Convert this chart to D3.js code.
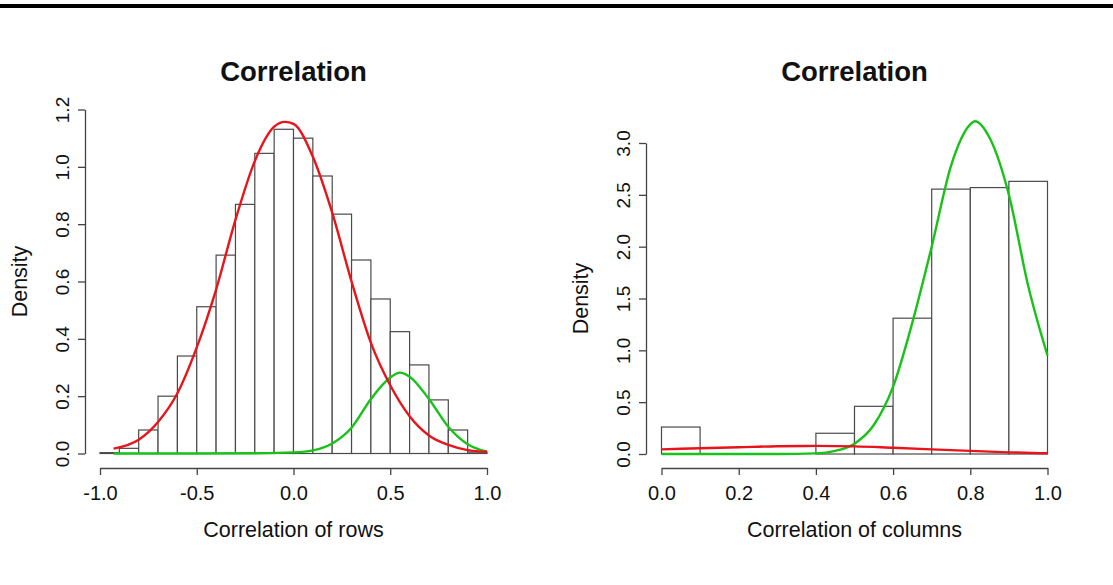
<!DOCTYPE html>
<html>
<head>
<meta charset="utf-8">
<script src="https://cdn.jsdelivr.net/npm/d3@7"></script>
<style>
body{margin:0;background:#fff;}
text{font-family:"Liberation Sans",Arial,sans-serif;fill:#111;}
</style>
</head>
<body>
<svg id="chart" width="1113" height="585"></svg>
<script>
// histogram of row correlations, bins of 0.1 from -1 to 1
var rowBreaks=[-1.0,-0.9,-0.8,-0.7,-0.6,-0.5,-0.4,-0.3,-0.2,-0.1,0.0,0.1,0.2,0.3,0.4,0.5,0.6,0.7,0.8,0.9,1.0];
var rowDensity=[0.003,0.018,0.082,0.2,0.34,0.512,0.692,0.869,1.047,1.131,1.10,0.968,0.835,0.675,0.539,0.425,0.309,0.187,0.082,0.005];
// fitted curves
var rowRedX=[-0.93,-0.8,-0.7,-0.6,-0.5,-0.4,-0.3,-0.2,-0.1,-0.045,0.0,0.1,0.2,0.3,0.4,0.5,0.6,0.7,0.8,0.9,1.0];
var rowRedY=[0.017,0.048,0.11,0.21,0.37,0.572,0.815,1.02,1.14,1.157,1.15,1.035,0.84,0.60,0.386,0.238,0.13,0.063,0.03,0.012,0.006];
var rowGreenX=[-0.93,-0.5,-0.2,0.0,0.1,0.2,0.3,0.4,0.5,0.55,0.6,0.7,0.8,0.9,1.0];
var rowGreenY=[0,0,0.001,0.004,0.011,0.035,0.09,0.19,0.265,0.282,0.268,0.19,0.093,0.032,0.006];

// histogram of column correlations, bins of 0.1 from 0 to 1
var colBreaks=[0.0,0.1,0.2,0.3,0.4,0.5,0.6,0.7,0.8,0.9,1.0];
var colDensity=[0.26,0,0,0,0.2,0.46,1.31,2.555,2.57,2.63];
var colRedX=[0.0,0.1,0.2,0.3,0.4,0.5,0.6,0.7,0.8,0.9,1.0];
var colRedY=[0.045,0.055,0.065,0.075,0.078,0.074,0.06,0.045,0.03,0.016,0.007];
var colGreenX=[0.0,0.3,0.4,0.45,0.5,0.55,0.6,0.65,0.7,0.75,0.8,0.812,0.85,0.9,0.95,1.0];
var colGreenY=[0,0,0.006,0.03,0.1,0.28,0.65,1.27,2.0,2.78,3.18,3.21,3.05,2.5,1.62,0.95];

var rowTicksX=[-1.0,-0.5,0.0,0.5,1.0];
var rowTicksY=[0.0,0.2,0.4,0.6,0.8,1.0,1.2];
var colTicksX=[0.0,0.2,0.4,0.6,0.8,1.0];
var colTicksY=[0.0,0.5,1.0,1.5,2.0,2.5,3.0];

var svg=d3.select("#chart");
var axisColor="#444";
var fmt=function(v){return v.toFixed(1);};

svg.append("rect").attr("x",0).attr("y",4).attr("width",1113).attr("height",4).attr("fill","#000");

function panel(opt){
	var x=d3.scaleLinear().domain(opt.xDomain).range(opt.xRange);
	var y=d3.scaleLinear().domain(opt.yDomain).range(opt.yRange);
	var g=svg.append("g");

	// bars
	var bins=opt.density.map(function(d,i){return {x0:opt.breaks[i],x1:opt.breaks[i+1],d:d};});
	g.selectAll("rect.bar").data(bins).enter().append("rect")
		.attr("class","bar")
		.attr("x",function(b){return x(b.x0);})
		.attr("width",function(b){return x(b.x1)-x(b.x0);})
		.attr("y",function(b){return y(b.d);})
		.attr("height",function(b){return y(0)-y(b.d);})
		.attr("fill","#fff")
		.attr("stroke","#4a4a4a")
		.attr("stroke-width",1.2);

	var line=d3.line().x(function(p){return x(p[0]);}).y(function(p){return y(p[1]);}).curve(d3.curveMonotoneX);
	var curves=[[opt.greenX,opt.greenY,"#18c218"],[opt.redX,opt.redY,"#e8141a"]];
	curves.forEach(function(c){
		g.append("path")
			.attr("d",line(d3.zip(c[0],c[1])))
			.attr("fill","none")
			.attr("stroke",c[2])
			.attr("stroke-width",2.4);
	});

	// axes
	var ax=g.append("g").attr("transform","translate(0,"+opt.xAxisY+")")
		.call(d3.axisBottom(x).tickValues(opt.ticksX).tickFormat(fmt).tickSize(7).tickSizeOuter(0).tickPadding(11));
	var ay=g.append("g").attr("transform","translate("+opt.yAxisX+",0)")
		.call(d3.axisLeft(y).tickValues(opt.ticksY).tickFormat(fmt).tickSize(7).tickSizeOuter(0));
	[ax,ay].forEach(function(a){
		a.selectAll("path,line").attr("stroke",axisColor).attr("stroke-width",1.3);
		a.selectAll("text").attr("fill","#111");
	});
	ax.selectAll("text").style("font-size","20px");
	ay.selectAll("text").style("font-size","19px")
		.attr("transform","rotate(-90)")
		.attr("x",0).attr("y",-16).attr("dy",null)
		.attr("text-anchor","middle");

	var cx=(opt.xRange[0]+opt.xRange[1])/2;
	g.append("text").attr("x",cx).attr("y",81).attr("text-anchor","middle")
		.style("font-size","27.5px").style("font-weight","bold").text("Correlation");
	g.append("text").attr("x",cx).attr("y",537).attr("text-anchor","middle")
		.style("font-size","21.5px").text(opt.xlab);
	g.append("text").attr("transform","translate("+opt.ylabX+","+(opt.yRange[0]+opt.yRange[1])/2+") rotate(-90)")
		.attr("text-anchor","middle").style("font-size","21.5px").text("Density");
}

panel({
	breaks:rowBreaks,density:rowDensity,
	redX:rowRedX,redY:rowRedY,greenX:rowGreenX,greenY:rowGreenY,
	xDomain:[-1,1],xRange:[100,487],yDomain:[0,1.2],yRange:[453.5,109.5],
	ticksX:rowTicksX,ticksY:rowTicksY,xAxisY:468,yAxisX:85,ylabX:27,
	xlab:"Correlation of rows"
});
panel({
	breaks:colBreaks,density:colDensity,
	redX:colRedX,redY:colRedY,greenX:colGreenX,greenY:colGreenY,
	xDomain:[0,1],xRange:[661.5,1047.5],yDomain:[0,3],yRange:[454,143],
	ticksX:colTicksX,ticksY:colTicksY,xAxisY:468,yAxisX:646,ylabX:588,
	xlab:"Correlation of columns"
});
</script>
</body>
</html>
